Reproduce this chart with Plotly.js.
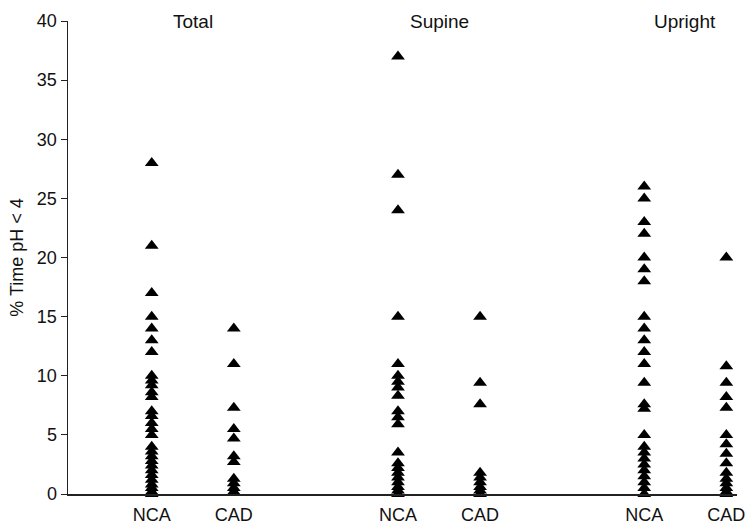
<!DOCTYPE html>
<html>
<head>
<meta charset="utf-8">
<script src="https://cdn.plot.ly/plotly-3.0.1.min.js"></script>
<style>html,body{margin:0;padding:0;background:#fff;}#chart{width:746px;height:531px;}</style>
</head>
<body>
<div id="chart"></div>
<script>
// Data
const groups = ["Total", "Supine", "Upright"];
const categories = ["NCA", "CAD"];
const totalNCA = [28, 21, 17, 15, 14, 13, 12, 10, 9.6, 9.2, 8.6, 8.2, 7, 6.6, 6, 5.5, 5, 4, 3.6, 3.2, 2.8, 2.4, 2, 1.6, 1.2, 0.8, 0.5, 0.2, 0];
const totalCAD = [14, 11, 7.3, 5.5, 4.7, 3.2, 2.7, 1.3, 0.9, 0.5, 0.2];
const supineNCA = [37, 27, 24, 15, 11, 10, 9.5, 9, 8.3, 7, 6.5, 5.9, 3.5, 2.6, 2.2, 1.8, 1.4, 1, 0.6, 0.3, 0];
const supineCAD = [15, 9.4, 7.6, 1.8, 1.4, 1, 0.6, 0.3, 0];
const uprightNCA = [26, 25, 23, 22, 20, 19, 18, 15, 14, 13, 12, 11, 9.4, 7.6, 7.2, 5, 4, 3.5, 3, 2.5, 2, 1.5, 1, 0.5, 0];
const uprightCAD = [20, 10.8, 9.4, 8.2, 7.3, 5, 4.2, 3.4, 2.6, 1.8, 1.3, 0.9, 0.5, 0.2, 0];
const yTicks = [0, 5, 10, 15, 20, 25, 30, 35, 40];

const series = [[totalNCA, totalCAD], [supineNCA, supineCAD], [uprightNCA, uprightCAD]];

const traces = [];
const tickvals = [], ticktext = [];
series.forEach((pair, g) => {
  pair.forEach((vals, c) => {
    const xpos = g * 3 + c + 1;
    tickvals.push(xpos);
    ticktext.push(categories[c]);
    traces.push({
      type: 'scatter', mode: 'markers',
      x: vals.map(() => xpos), y: vals,
      marker: {symbol: 'triangle-up', size: 12, color: '#000', line: {width: 0}},
      cliponaxis: false, showlegend: false, hoverinfo: 'y'
    });
  });
});

const FONT = 'Liberation Sans, Arial, Helvetica, sans-serif';
const annotations = groups.map((g, i) => ({
  text: g, x: i * 3 + 1.5, y: 1, xref: 'x', yref: 'paper',
  yanchor: 'middle', xanchor: 'center', showarrow: false,
  font: {family: FONT, size: 19, color: '#111'}
}));

const layout = {
  width: 746, height: 531,
  margin: {l: 68, r: 9, t: 21, b: 37},
  paper_bgcolor: '#fff', plot_bgcolor: '#fff',
  font: {family: FONT, color: '#111'},
  xaxis: {
    range: [-0.02, 8.13], tickvals: tickvals, ticktext: ticktext,
    showgrid: false, zeroline: false, showline: true, linecolor: '#222', linewidth: 1.5,
    ticks: '', tickfont: {size: 18, color: '#111'}, ticklabelstandoff: 4,
    ticklabeloverflow: 'allow'
  },
  yaxis: {
    range: [0, 40], tickvals: yTicks, showgrid: false, zeroline: false,
    showline: true, linecolor: '#222', linewidth: 1.5, ticks: 'outside', ticklen: 6, tickcolor: '#222',
    tickfont: {size: 18, color: '#111'},
    title: {text: '% Time pH < 4', font: {size: 18, color: '#111'}, standoff: 8}
  },
  annotations: annotations
};

Plotly.newPlot('chart', traces, layout, {displayModeBar: false, staticPlot: true});
</script>
</body>
</html>
